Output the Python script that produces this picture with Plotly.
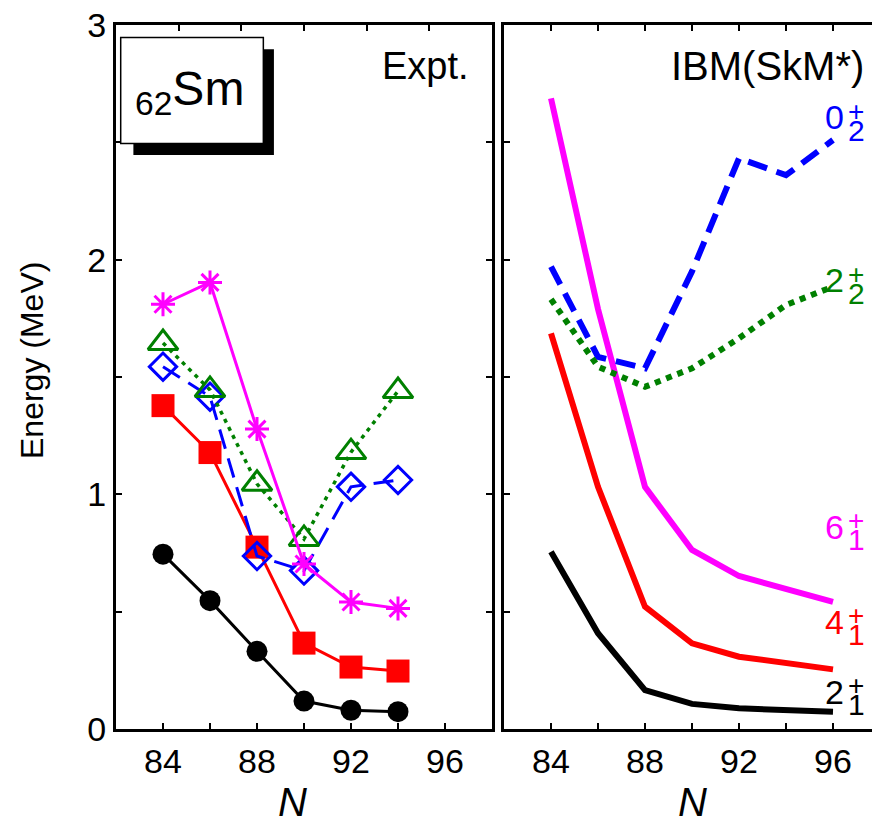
import plotly.graph_objects as go

# ---- experimental levels of 62Sm isotopes (MeV) ----
N_expt = [84, 86, 88, 90, 92, 94]
expt_2_1 = [0.745, 0.547, 0.331, 0.119, 0.080, 0.074]
expt_4_1 = [1.378, 1.178, 0.775, 0.366, 0.264, 0.247]
expt_6_1 = [1.810, 1.903, 1.278, 0.703, 0.541, 0.514]
expt_0_2 = [1.544, 1.416, 0.737, 0.675, 1.032, 1.061]
expt_2_2 = [1.645, 1.445, 1.045, 0.810, 1.180, 1.440]

# ---- IBM(SkM*) calculation (MeV) ----
N_ibm = [84, 86, 88, 90, 92, 94, 96]
ibm_2_1 = [0.755, 0.408, 0.166, 0.107, 0.088, 0.078, 0.074]
ibm_4_1 = [1.686, 1.032, 0.521, 0.365, 0.308, 0.280, 0.254]
ibm_6_1 = [2.687, 1.790, 1.032, 0.763, 0.652, 0.595, 0.542]
ibm_0_2 = [1.970, 1.586, 1.537, 1.950, 2.432, 2.360, 2.510]
ibm_2_2 = [1.831, 1.544, 1.458, 1.537, 1.665, 1.807, 1.885]

x_major = [84, 88, 92, 96]
y_major = [0, 1, 2, 3]

# state labels at the right end of the IBM curves: (J, index, colour, y)
state_labels = [
    ("0", "2", "#0000ff", 2.607),
    ("2", "2", "#008000", 1.913),
    ("6", "1", "#ff00ff", 0.861),
    ("4", "1", "#ff0000", 0.456),
    ("2", "1", "#000000", 0.158),
]

FONT = "Liberation Sans, Arial, Helvetica, sans-serif"
W, H = 872, 819
ML, MT, MB = 116, 25, 90
PW = W - ML
PH = H - MT - MB
px_per_N = 23.5

fig = go.Figure()

# experimental panel
fig.add_trace(go.Scatter(x=N_expt, y=expt_2_1, mode="lines+markers",
                         line=dict(color="black", width=3),
                         marker=dict(symbol="circle", size=21, color="black"),
                         xaxis="x", yaxis="y", showlegend=False))
fig.add_trace(go.Scatter(x=N_expt, y=expt_4_1, mode="lines+markers",
                         line=dict(color="#ff0000", width=3),
                         marker=dict(symbol="square", size=23, color="#ff0000"),
                         xaxis="x", yaxis="y", showlegend=False))
fig.add_trace(go.Scatter(x=N_expt, y=expt_0_2, mode="lines+markers",
                         line=dict(color="#0000ff", width=3, dash="20px,10px"),
                         marker=dict(symbol="diamond-open", size=21, color="#0000ff",
                                     line=dict(width=3, color="#0000ff")),
                         xaxis="x", yaxis="y", showlegend=False))
fig.add_trace(go.Scatter(x=N_expt, y=expt_2_2, mode="lines+markers",
                         line=dict(color="#008000", width=3.5, dash="4px,5px"),
                         marker=dict(symbol="triangle-up-open", size=26, color="#008000",
                                     line=dict(width=3, color="#008000")),
                         xaxis="x", yaxis="y", showlegend=False))
fig.add_trace(go.Scatter(x=N_expt, y=expt_6_1, mode="lines+markers",
                         line=dict(color="#ff00ff", width=3),
                         marker=dict(symbol="asterisk-open", size=20, color="#ff00ff",
                                     line=dict(width=3, color="#ff00ff")),
                         xaxis="x", yaxis="y", showlegend=False))

# IBM panel
fig.add_trace(go.Scatter(x=N_ibm, y=ibm_2_1, mode="lines",
                         line=dict(color="black", width=6),
                         xaxis="x2", yaxis="y2", showlegend=False))
fig.add_trace(go.Scatter(x=N_ibm, y=ibm_4_1, mode="lines",
                         line=dict(color="#ff0000", width=6),
                         xaxis="x2", yaxis="y2", showlegend=False))
fig.add_trace(go.Scatter(x=N_ibm, y=ibm_6_1, mode="lines",
                         line=dict(color="#ff00ff", width=6),
                         xaxis="x2", yaxis="y2", showlegend=False))
fig.add_trace(go.Scatter(x=N_ibm, y=ibm_0_2, mode="lines",
                         line=dict(color="#0000ff", width=6, dash="20px,10px"),
                         xaxis="x2", yaxis="y2", showlegend=False))
fig.add_trace(go.Scatter(x=N_ibm, y=ibm_2_2, mode="lines",
                         line=dict(color="#008000", width=6, dash="6px,6px"),
                         xaxis="x2", yaxis="y2", showlegend=False))

axis_common = dict(showgrid=False, zeroline=False, showline=True, linecolor="black",
                   linewidth=3, ticks="inside", ticklen=6, tickwidth=1.5,
                   tickcolor="black", tickfont=dict(family=FONT, size=34, color="black"))
x_minor = dict(ticks="inside", ticklen=6, tickwidth=1.5, tickcolor="black",
               tick0=84, dtick=2, showgrid=False)
y_minor = dict(ticks="inside", ticklen=6, tickwidth=1.5, tickcolor="black",
               tick0=0, dtick=0.5, showgrid=False)

d1 = 376 / PW
d2 = 388 / PW
x2_max = 82 + (PW - 388) / px_per_N

fig.update_layout(
    width=W, height=H,
    margin=dict(l=ML, r=0, t=MT, b=MB, pad=0),
    paper_bgcolor="white", plot_bgcolor="white",
    font=dict(family=FONT, color="black"),
    xaxis=dict(domain=[0, d1], range=[82, 98], anchor="y", mirror=True,
               tickvals=x_major, minor=x_minor, **axis_common),
    xaxis3=dict(domain=[0, d1], range=[0, 6], anchor="y", overlaying="x", side="top",
                showgrid=False, zeroline=False, showline=False, ticks="inside",
                ticklen=6, tickwidth=1.5, tickcolor="black",
                tickvals=[1, 2, 3, 4, 5], showticklabels=False),
    yaxis=dict(domain=[0, 1], range=[0, 3], anchor="x", mirror="ticks",
               tickvals=y_major, minor=y_minor, **axis_common),
    xaxis2=dict(domain=[d2, 1], range=[82, x2_max], anchor="y2", mirror="ticks",
                tickvals=x_major, minor=x_minor, **axis_common),
    yaxis2=dict(domain=[0, 1], range=[0, 3], anchor="x2", mirror=False,
                tickvals=y_major, minor=y_minor, showticklabels=False, **axis_common),
)

# invisible point so the top tick axis is drawn
fig.add_trace(go.Scatter(x=[0], y=[0], mode="markers", marker=dict(opacity=0),
                         xaxis="x3", yaxis="y", showlegend=False, hoverinfo="skip"))

# element box with drop shadow
fig.add_shape(type="rect", xref="x", yref="y", x0=82.74, x1=88.72, y0=2.446, y1=2.897,
              fillcolor="black", line=dict(width=0))
fig.add_shape(type="rect", xref="x", yref="y", x0=82.2, x1=88.27, y0=2.495, y1=2.947,
              fillcolor="white", line=dict(color="black", width=1.5))

ann = []
ann.append(dict(x=82.72, y=2.715, xref="x", yref="y", xanchor="left", yanchor="middle",
                text="<sub>62</sub>Sm", showarrow=False,
                font=dict(family=FONT, size=48, color="black")))
ann.append(dict(x=(471 - ML) / PW, y=(729 - 66) / PH, xref="paper", yref="paper",
                xanchor="right", yanchor="middle", text="Expt.", showarrow=False,
                font=dict(family=FONT, size=38, color="black")))
ann.append(dict(x=(866 - ML) / PW, y=(729 - 66) / PH, xref="paper", yref="paper",
                xanchor="right", yanchor="middle", text="IBM(SkM*)", showarrow=False,
                font=dict(family=FONT, size=40, color="black")))
# y axis title
ann.append(dict(x=(32 - ML) / PW, y=(729 - 361) / PH, xref="paper", yref="paper",
                xanchor="center", yanchor="middle", text="Energy (MeV)", textangle=-90,
                showarrow=False, font=dict(family=FONT, size=32, color="black")))
# N axis titles
for xc in (292, 692):
    ann.append(dict(x=(xc - ML) / PW, y=(729 - 802) / PH, xref="paper", yref="paper",
                    xanchor="center", yanchor="middle", text="<i>N</i>",
                    showarrow=False, font=dict(family=FONT, size=40, color="black")))
# stacked J^+ and index labels
for j, idx, col, yv in state_labels:
    ann.append(dict(x=(846 - ML) / PW, y=yv, xref="paper", yref="y2", xanchor="right",
                    yanchor="middle", text=j, showarrow=False,
                    font=dict(family=FONT, size=34, color=col)))
    ann.append(dict(x=(856 - ML) / PW, y=yv, xref="paper", yref="y2", xanchor="center",
                    yanchor="middle", yshift=6, text="+", showarrow=False,
                    font=dict(family=FONT, size=28, color=col)))
    ann.append(dict(x=(856 - ML) / PW, y=yv, xref="paper", yref="y2", xanchor="center",
                    yanchor="middle", yshift=-13, text=idx, showarrow=False,
                    font=dict(family=FONT, size=30, color=col)))

fig.update_layout(annotations=ann)

fig.write_html("out.html")
